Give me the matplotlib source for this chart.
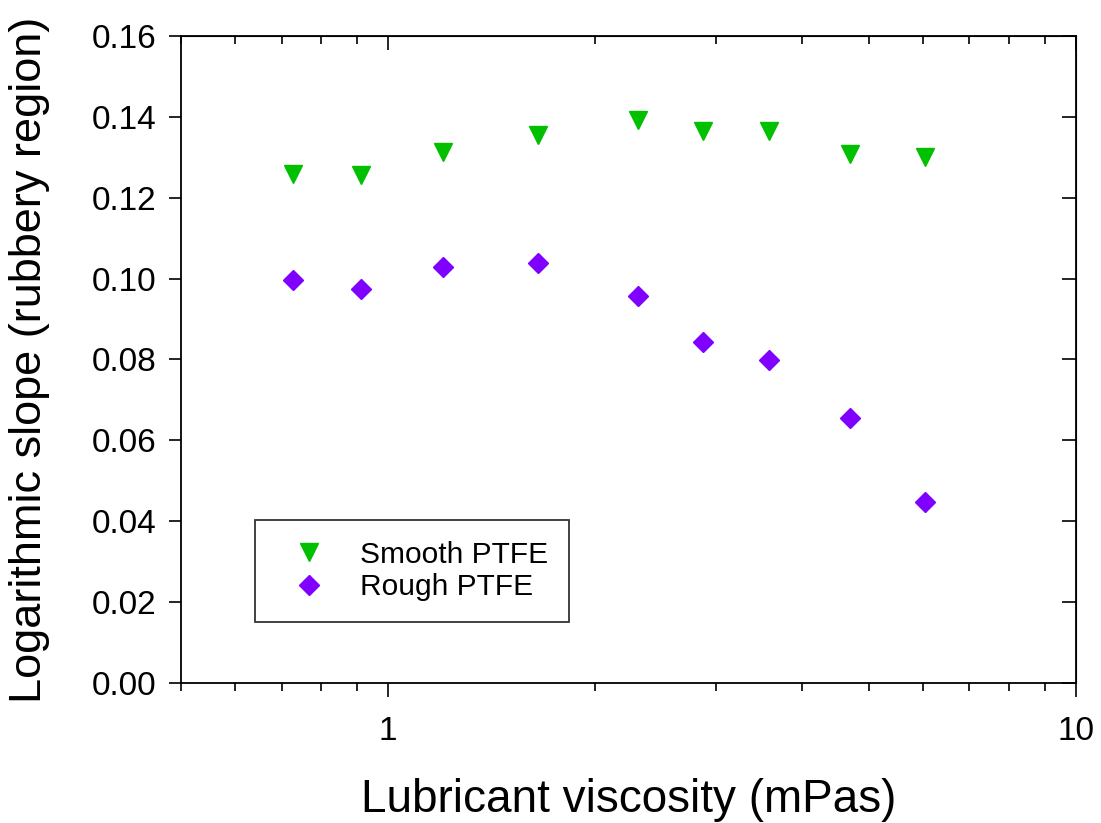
import matplotlib
matplotlib.use("Agg")
import matplotlib.pyplot as plt
from matplotlib.ticker import LogLocator, NullFormatter, FixedLocator

plt.rcParams['font.family'] = ['Liberation Sans', 'DejaVu Sans']

# lubricant viscosity (mPas) and log slope in the rubbery region
viscosity = [0.727, 0.913, 1.20, 1.65, 2.31, 2.87, 3.58, 4.69, 6.03]
smooth_slope = [0.1259, 0.1256, 0.1313, 0.1355, 0.1392, 0.1365, 0.1365, 0.1308, 0.1301]
rough_slope = [0.0997, 0.0974, 0.1029, 0.1039, 0.0957, 0.0843, 0.0799, 0.0655, 0.0448]

y_ticks = [0.00, 0.02, 0.04, 0.06, 0.08, 0.10, 0.12, 0.14, 0.16]

fig = plt.figure(figsize=(11.01, 8.23), dpi=100)
ax = fig.add_axes([0.1644, 0.1701, 0.8129, 0.7862])

ax.plot(viscosity, smooth_slope, linestyle='none', marker='v', ms=13,
        color='#00C000', label='Smooth PTFE')
ax.plot(viscosity, rough_slope, linestyle='none', marker='D', ms=10,
        color='#8000FF', label='Rough PTFE')

ax.set_xscale('log')
ax.set_xlim(0.5, 10)
ax.set_ylim(0, 0.16)
ax.set_yticks(y_ticks)
ax.set_yticklabels([f"{v:.2f}" for v in y_ticks])
ax.xaxis.set_major_locator(FixedLocator([1, 10]))
ax.set_xticklabels(['1', '10'])
ax.xaxis.set_minor_locator(LogLocator(base=10, subs=range(2, 10)))
ax.xaxis.set_minor_formatter(NullFormatter())

for side in ax.spines.values():
    side.set_linewidth(1.3)

# outward ticks on bottom/left, inward mirrored ticks on top/right
ax.tick_params(which='both', labelsize=24, width=1.2)
ax.tick_params(axis='y', which='major', length=9, pad=9)
ax.tick_params(axis='x', which='major', length=10, pad=14)
ax.tick_params(axis='x', which='minor', length=6)
ax2 = ax.secondary_xaxis('top')
ax2.xaxis.set_major_locator(FixedLocator([1, 10]))
ax2.xaxis.set_minor_locator(LogLocator(base=10, subs=range(2, 10)))
ax2.tick_params(which='both', direction='in', labeltop=False, width=1.2)
ax2.tick_params(which='major', length=10)
ax2.tick_params(which='minor', length=6)
ax3 = ax.secondary_yaxis('right')
ax3.set_yticks(y_ticks)
ax3.tick_params(direction='in', labelright=False, length=10, width=1.2)

ax.set_xlabel('Lubricant viscosity (mPas)', fontsize=33, labelpad=22)
ax.set_ylabel('Logarithmic slope (rubbery region)', fontsize=32.5, labelpad=30)

leg = ax.legend(loc='lower left', bbox_to_anchor=(0.0827, 0.0944), fontsize=21.5,
                frameon=True, fancybox=False, edgecolor='black',
                borderpad=0.7, handletextpad=0.6, borderaxespad=0,
                labelspacing=0.15, handlelength=2.2)
leg.get_frame().set_linewidth(1.3)

fig.savefig('out.png', dpi=100)
